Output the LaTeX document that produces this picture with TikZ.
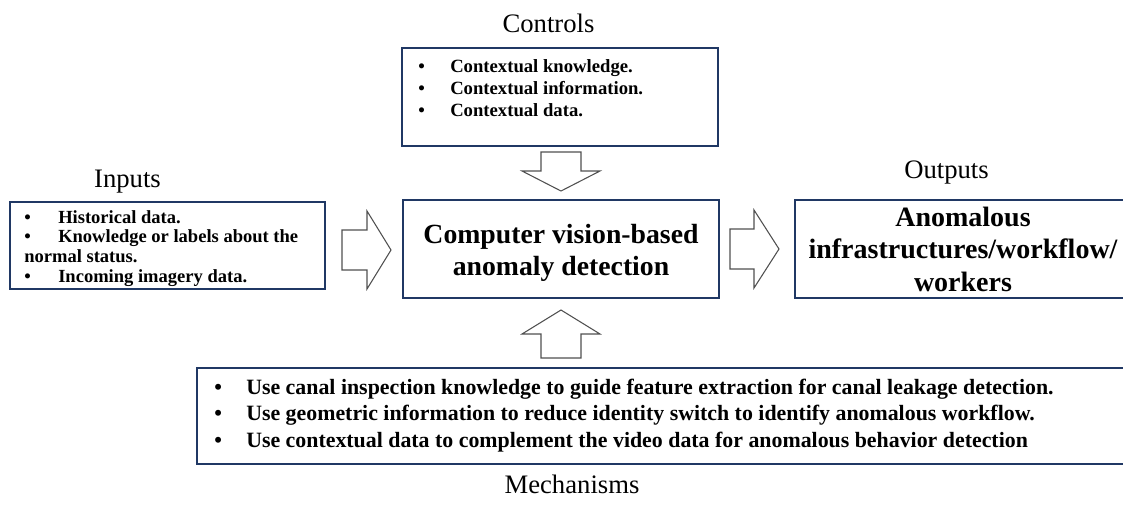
\documentclass[tikz,border=0pt]{standalone}
\usepackage{fontspec}
\setmainfont{Liberation Serif}
\usetikzlibrary{calc}
\definecolor{boxblue}{HTML}{203864}
\definecolor{arrowgray}{HTML}{505050}
\tikzset{
  box/.style={draw=boxblue, line width=1.5pt, inner sep=0pt},
  boxtext/.style={inner sep=0pt, font=\bfseries},
  heading/.style={inner sep=0pt, anchor=base, font=\fontsize{20}{24}\selectfont},
  % block arrow pointing along +x: shaft length #1, head length #2
  pics/fatarrow/.style 2 args={code={
    \draw[draw=arrowgray, fill=white, line width=0.8pt, line join=miter]
      (0,-20) -- (#1,-20) -- (#1,-39) -- (#1+#2,0) -- (#1,39) -- (#1,20) -- (0,20) -- cycle;
  }},
}
\newcommand{\bul}[1]{\makebox[#1][l]{\textbullet}}

\begin{document}
\begin{tikzpicture}[x=0.75pt, y=-0.75pt]
\useasboundingbox (0,0) rectangle (1123,504);
\clip (0,0) rectangle (1123,504);

% frames
\node[box, minimum width=237pt, minimum height=73.5pt] (ctrl) at (560,97) {};
\node[box, minimum width=237pt, minimum height=73.5pt] (core) at (561,249) {};
\node[box, minimum width=236.25pt, minimum height=65.25pt] (inp) at (167.5,245.5) {};
\node[box, minimum width=258.75pt, minimum height=73.5pt] (outp) at (967.5,249) {};
\node[box, minimum width=707.25pt, minimum height=72pt] (mech) at (668.5,415.5) {};

% frame contents
\node[boxtext, anchor=base west] (ctrltext) at (418,72) {\fontsize{14}{16.5}\selectfont
  \begin{tabular}[t]{@{}l@{}l@{}}
    \bul{24pt} & Contextual knowledge.\\
    \bul{24pt} & Contextual information.\\
    \bul{24pt} & Contextual data.
  \end{tabular}};

\node[boxtext, anchor=base west] (inptext) at (24,223) {\fontsize{13.9}{14.8}\selectfont
  \begin{tabular}[t]{@{}l@{}l@{}}
    \bul{25.5pt} & Historical data.\\
    \bul{25.5pt} & Knowledge or labels about the\\
    \multicolumn{2}{@{}l@{}}{normal status.}\\
    \bul{25.5pt} & Incoming imagery data.
  \end{tabular}};

\node[boxtext, anchor=base west] (mechtext) at (214,394) {\fontsize{16.4}{20}\selectfont
  \begin{tabular}[t]{@{}l@{}l@{}}
    \bul{24pt} & Use canal inspection knowledge to guide feature extraction for canal leakage detection.\\
    \bul{24pt} & Use geometric information to reduce identity switch to identify anomalous workflow.\\
    \bul{24pt} & Use contextual data to complement the video data for anomalous behavior detection
  \end{tabular}};

\node[boxtext, anchor=base] (coretext) at (561,243) {\fontsize{20.8}{24}\selectfont
  \begin{tabular}[t]{@{}c@{}}
    Computer vision-based\\
    anomaly detection
  \end{tabular}};

\node[boxtext, anchor=base] (outptext) at (963,226) {\fontsize{21}{24.4}\selectfont
  \begin{tabular}[t]{@{}c@{}}
    Anomalous\\
    infrastructures/workflow/\\
    workers
  \end{tabular}};

% headings
\node[heading] (ctrllabel) at (548.5,32) {Controls};
\node[heading] (inplabel) at (127.5,187) {Inputs};
\node[heading] (outplabel) at (946.5,178) {Outputs};
\node[heading] (mechlabel) at (572,493) {Mechanisms};

% block arrows into and out of the central frame
\pic at ($(core.west)+(-60,1)$) {fatarrow={25}{24}};
\pic at ($(core.east)+(10,0)$) {fatarrow={24}{25}};
\pic[rotate=-90] at ($(core.north)+(0,-47)$) {fatarrow={19}{20}};
\pic[rotate=90] at ($(core.south)+(0,59)$) {fatarrow={24}{24}};
\end{tikzpicture}
\end{document}
